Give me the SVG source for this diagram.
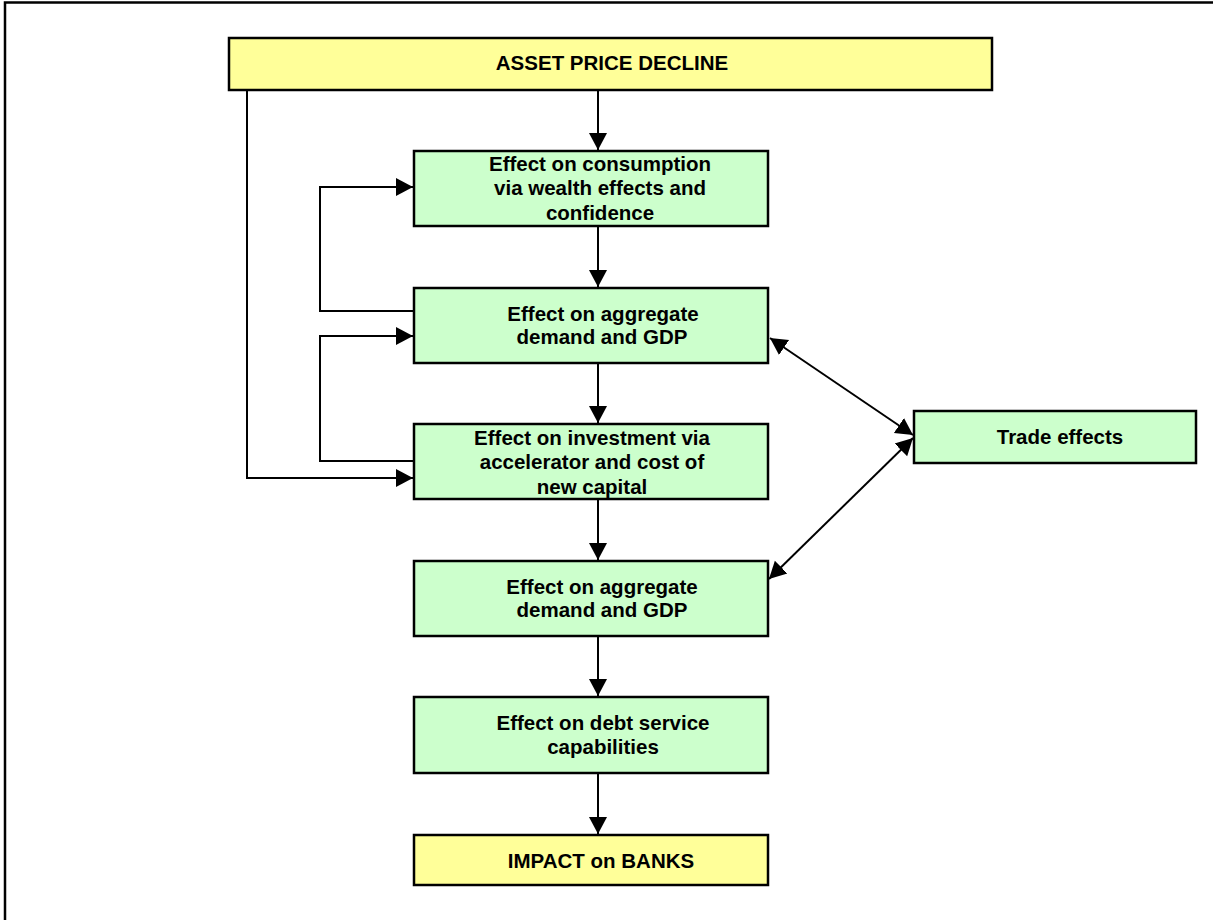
<svg xmlns="http://www.w3.org/2000/svg" width="1213" height="920" viewBox="0 0 1213 920">
<style>
.box{stroke:#000;stroke-width:2.5}
.y{fill:#FFFF99}
.g{fill:#CCFFCC}
.t{font-family:"Liberation Sans",Arial,sans-serif;font-weight:bold;font-size:20.5px;fill:#000;text-anchor:middle}
.c{fill:none;stroke:#000;stroke-width:2}
</style>
<defs>
<marker id="ah" markerUnits="userSpaceOnUse" markerWidth="18" markerHeight="20" refX="17" refY="9" orient="auto-start-reverse" viewBox="0 0 18 18">
<path d="M0,0 L17,9 L0,18 Z" fill="#000"/>
</marker>
</defs>
<rect width="1213" height="920" fill="#fff"/>
<path d="M5,920 V2.5 H1213" fill="none" stroke="#000" stroke-width="2.5"/>

<g id="connectors">
<line class="c" x1="598" y1="90" x2="598" y2="150" marker-end="url(#ah)"/>
<line class="c" x1="598" y1="226" x2="598" y2="287" marker-end="url(#ah)"/>
<line class="c" x1="598" y1="363" x2="598" y2="423" marker-end="url(#ah)"/>
<line class="c" x1="598" y1="499" x2="598" y2="560" marker-end="url(#ah)"/>
<line class="c" x1="598" y1="636" x2="598" y2="696" marker-end="url(#ah)"/>
<line class="c" x1="598" y1="773" x2="598" y2="834" marker-end="url(#ah)"/>
<polyline class="c" points="247,90 247,478 413,478" marker-end="url(#ah)"/>
<polyline class="c" points="414,311 320,311 320,187 413,187" marker-end="url(#ah)"/>
<polyline class="c" points="414,461 320,461 320,336 413,336" marker-end="url(#ah)"/>
<line class="c" x1="770" y1="338" x2="913" y2="435" marker-start="url(#ah)" marker-end="url(#ah)"/>
<line class="c" x1="913" y1="438" x2="769" y2="579" marker-start="url(#ah)" marker-end="url(#ah)"/>
</g>

<g id="asset">
<rect class="box y" x="229" y="38" width="763" height="52"/>
<text class="t" x="612" y="70">ASSET PRICE DECLINE</text>
</g>
<g id="consumption">
<rect class="box g" x="414" y="151" width="354" height="75"/>
<text class="t" x="600" y="171">Effect on consumption</text>
<text class="t" x="600" y="195">via wealth effects and</text>
<text class="t" x="600" y="220">confidence</text>
</g>
<g id="aggregate1">
<rect class="box g" x="414" y="288" width="354" height="75"/>
<text class="t" x="603" y="321">Effect on aggregate</text>
<text class="t" x="602" y="344">demand and GDP</text>
</g>
<g id="investment">
<rect class="box g" x="414" y="424" width="354" height="75"/>
<text class="t" x="592" y="445">Effect on investment via</text>
<text class="t" x="592" y="469">accelerator and cost of</text>
<text class="t" x="592" y="494">new capital</text>
</g>
<g id="aggregate2">
<rect class="box g" x="414" y="561" width="354" height="75"/>
<text class="t" x="602" y="594">Effect on aggregate</text>
<text class="t" x="602" y="617">demand and GDP</text>
</g>
<g id="debt">
<rect class="box g" x="414" y="697" width="354" height="76"/>
<text class="t" x="603" y="730">Effect on debt service</text>
<text class="t" x="603" y="754">capabilities</text>
</g>
<g id="impact">
<rect class="box y" x="414" y="835" width="354" height="50"/>
<text class="t" x="601" y="868">IMPACT on BANKS</text>
</g>
<g id="trade">
<rect class="box g" x="914" y="411" width="282" height="52"/>
<text class="t" x="1060" y="444">Trade effects</text>
</g>
</svg>
